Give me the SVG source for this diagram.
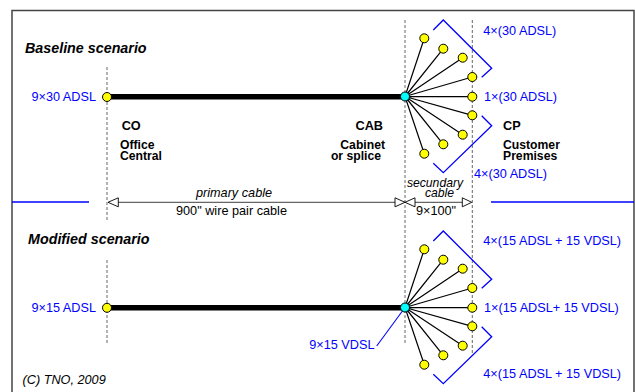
<svg xmlns="http://www.w3.org/2000/svg" width="635" height="392" viewBox="0 0 635 392">
<style>
text{font-family:"Liberation Sans",Arial,sans-serif;font-size:12.7px;fill:#000}
.b{fill:#0000ff}
.h{font-weight:bold;font-style:italic;font-size:14.3px}
.lb{font-weight:bold}
.ml{font-weight:bold;font-size:12.2px}
.it{font-style:italic}
.sc{font-style:italic;font-size:12.2px}
.dash{stroke:#666;stroke-width:1;stroke-dasharray:3,2;fill:none}
.fan{stroke:#000;stroke-width:1.2;fill:none}
.y{fill:#ffff00;stroke:#000;stroke-width:1}
.c{fill:#00ffff;stroke:#000;stroke-width:1}
.br{stroke:#0000ff;stroke-width:1.3;fill:none}
.dim{stroke:#666;stroke-width:1.3;fill:none}
.tri{fill:#fff;stroke:#000;stroke-width:0.9}
.thick{stroke:#000;stroke-width:5.5}
</style>
<defs>
<g id="fanT">
<path class="fan" d="M405,96.5 L424.3,38.3 M405,96.5 L443.3,48.7 M405,96.5 L462.7,57.7 M405,96.5 L472.3,77 M405,96.5 L472.3,96.7 M405,96.5 L472.3,115.3 M405,96.5 L462.7,134.7 M405,96.5 L443.3,144.3 M405,96.5 L424.3,153.7"/>
<circle class="y" cx="424.3" cy="38.3" r="4.5"/>
<circle class="y" cx="443.3" cy="48.7" r="4.5"/>
<circle class="y" cx="462.7" cy="57.7" r="4.5"/>
<circle class="y" cx="472.3" cy="77" r="4.5"/>
<circle class="y" cx="472.3" cy="96.7" r="4.5"/>
<circle class="y" cx="472.3" cy="115.3" r="4.5"/>
<circle class="y" cx="462.7" cy="134.7" r="4.5"/>
<circle class="y" cx="443.3" cy="144.3" r="4.5"/>
<circle class="y" cx="424.3" cy="153.7" r="4.5"/>
<path class="br" d="M433.3,30 L443.3,20 L491.7,68.3 L481.7,77.3"/>
<path class="br" d="M481.7,115.7 L491.7,125.7 L443.3,172.7 L433.3,163.3"/>
</g>
</defs>

<path d="M12,400 V10.5 H634 V400" fill="none" stroke="#444" stroke-width="1.5"/>

<g id="separator">
<line x1="12" y1="202" x2="89" y2="202" stroke="#0000ff" stroke-width="1.3"/>
<line x1="491" y1="202" x2="634" y2="202" stroke="#0000ff" stroke-width="1.3"/>
</g>

<g id="guides">
<line class="dash" x1="107" y1="67" x2="107" y2="220"/>
<line class="dash" x1="107" y1="260" x2="107" y2="345"/>
<line class="dash" x1="405" y1="20" x2="405" y2="345"/>
<line class="dash" x1="472.3" y1="20" x2="472.3" y2="353"/>
</g>

<text class="h" x="25" y="53">Baseline scenario</text>
<text class="h" x="28" y="244">Modified scenario</text>

<g id="connectors">
<line class="thick" x1="107" y1="96.8" x2="405" y2="96.8"/>
<line class="thick" x1="107" y1="307.8" x2="405" y2="307.8"/>
<line x1="376.7" y1="346" x2="405" y2="307.5" stroke="#0000ff" stroke-width="1.1"/>
</g>

<g id="dimensions">
<line class="dim" x1="118" y1="202.3" x2="395" y2="202.3"/>
<line class="dim" x1="415" y1="202.3" x2="462" y2="202.3"/>
<path class="tri" d="M108,202.3 L118.3,197.8 L118.3,206.8 Z"/>
<path class="tri" d="M405,202.3 L395,197.8 L395,206.8 Z"/>
<path class="tri" d="M405,202.3 L415,197.8 L415,206.8 Z"/>
<path class="tri" d="M471.7,202.3 L462.3,197.8 L462.3,206.8 Z"/>
<text class="it" x="234" y="196.7" text-anchor="middle">primary cable</text>
<text x="231.5" y="215" text-anchor="middle">900" wire pair cable</text>
<text class="sc" text-anchor="middle"><tspan x="435" y="186.5">secundary</tspan><tspan x="439.5" y="197">cable</tspan></text>
<text x="436" y="215" text-anchor="middle">9×100"</text>
</g>

<g id="CO">
<circle class="y" cx="107" cy="97" r="4.5"/>
<text class="b" x="96" y="101" text-anchor="end">9×30 ADSL</text>
<text class="lb" x="121.7" y="130">CO</text>
<text class="ml"><tspan x="120" y="148.5">Office</tspan><tspan x="120" y="159.5">Central</tspan></text>
</g>

<g id="CAB">
<use href="#fanT"/>
<circle class="c" cx="405" cy="96.5" r="4.5"/>
<text class="lb" x="383" y="130" text-anchor="end">CAB</text>
<text class="ml" text-anchor="end"><tspan x="385" y="148.5">Cabinet</tspan><tspan x="381" y="159.5">or splice</tspan></text>
</g>

<g id="CP">
<text class="b" x="483.3" y="34.5">4×(30 ADSL)</text>
<text class="b" x="484" y="101">1×(30 ADSL)</text>
<text class="b" x="474" y="178">4×(30 ADSL)</text>
<text class="lb" x="503" y="130">CP</text>
<text class="ml"><tspan x="503" y="148.5">Customer</tspan><tspan x="503" y="159.5">Premises</tspan></text>
</g>

<g id="CO2">
<circle class="y" cx="107" cy="307.8" r="4.5"/>
<text class="b" x="96" y="312" text-anchor="end">9×15 ADSL</text>
</g>

<g id="CAB2">
<use href="#fanT" transform="translate(0,211)"/>
<circle class="c" cx="405" cy="307.5" r="4.5"/>
<text class="b" x="374.5" y="349" text-anchor="end">9×15 VDSL</text>
</g>

<g id="CP2">
<text class="b" x="483.3" y="245">4×(15 ADSL + 15 VDSL)</text>
<text class="b" x="484" y="311.7">1×(15 ADSL+ 15 VDSL)</text>
<text class="b" x="483.3" y="377.7">4×(15 ADSL + 15 VDSL)</text>
</g>

<text class="it" x="22.5" y="384.3">(C) TNO, 2009</text>
</svg>
